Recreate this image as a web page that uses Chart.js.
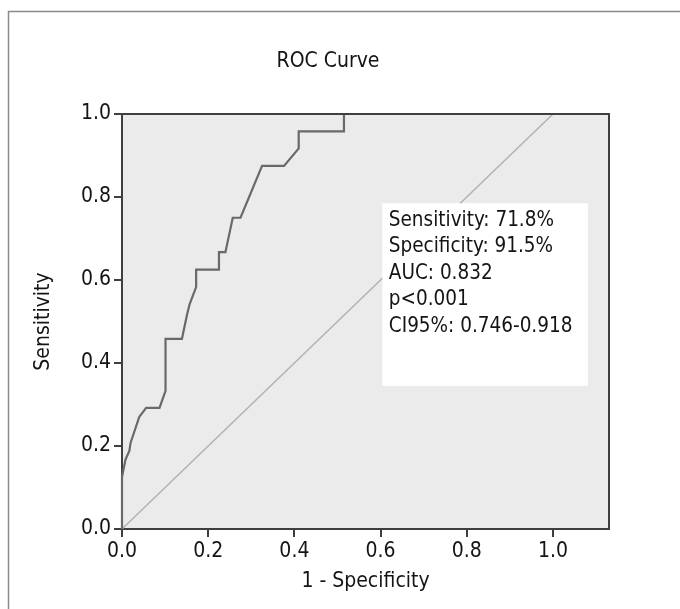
<!DOCTYPE html>
<html>
<head>
<meta charset="utf-8">
<title>ROC Curve</title>
<script src="https://cdn.jsdelivr.net/npm/chart.js@4.4.1/dist/chart.umd.min.js"></script>
<style>
    html, body { margin: 0; padding: 0; background: #fff; }
    #wrap { position: relative; width: 680px; height: 609px; }
</style>
</head>
<body>
<div id="wrap"><canvas id="rocChart"></canvas></div>
<script>
// ROC curve points (1 - specificity, sensitivity)
const fpr = [0, 0, 0.008, 0.017, 0.02, 0.04, 0.056, 0.087, 0.101, 0.101, 0.139, 0.151, 0.157, 0.172,
             0.172, 0.225, 0.225, 0.24, 0.257, 0.275, 0.325, 0.376, 0.41, 0.41, 0.515, 0.515, 1.0];
const tpr = [0, 0.125, 0.167, 0.188, 0.208, 0.27, 0.292, 0.292, 0.333, 0.458, 0.458, 0.517, 0.542, 0.583,
             0.625, 0.625, 0.667, 0.667, 0.75, 0.75, 0.875, 0.875, 0.917, 0.958, 0.958, 1.0, 1.0];

// reference (chance) line
const refLine = [0, 1];

const xTicks = [0, 0.2, 0.4, 0.6, 0.8, 1.0];
const yTicks = [0, 0.2, 0.4, 0.6, 0.8, 1.0];
const xMax = 1.13;

const chartTitle = 'ROC Curve';
const statLines = [
    'Sensitivity: 71.8%',
    'Specificity: 91.5%',
    'AUC: 0.832',
    'p<0.001',
    'CI95%: 0.746-0.918'
];

const FONT = '"DejaVu Sans Condensed", "Liberation Sans", Arial, sans-serif';
const colors = {
    axis: '#3f3f3f',
    plotBg: '#ebebeb',
    curve: '#696969',
    ref: '#b2b2b2',
    frame: '#8a8a8a',
    text: '#141414'
};

// background, frame, title, plot box and the white stats box
const decorPlugin = {
    id: 'decor',
    beforeDraw(chart) {
        const {ctx, chartArea: a} = chart;
        ctx.save();
        ctx.fillStyle = '#fff';
        ctx.fillRect(0, 0, chart.width, chart.height);
        ctx.strokeStyle = colors.frame;
        ctx.lineWidth = 1.5;
        ctx.strokeRect(8.5, 11.5, chart.width + 20, chart.height + 20);
        ctx.fillStyle = colors.plotBg;
        ctx.fillRect(a.left, a.top, a.right - a.left, a.bottom - a.top);

        ctx.fillStyle = colors.text;
        ctx.font = '21px ' + FONT;
        ctx.textAlign = 'center';
        ctx.textBaseline = 'middle';
        ctx.fillText(chartTitle, 328, 62);
        ctx.restore();
    },
    afterDatasetsDraw(chart) {
        const {ctx, chartArea: a, scales: {x, y}} = chart;
        ctx.save();
        const left = x.getPixelForValue(0.604);
        const right = x.getPixelForValue(1.081);
        const top = y.getPixelForValue(0.785);
        const bottom = y.getPixelForValue(0.345);
        ctx.fillStyle = '#fff';
        ctx.fillRect(left, top, right - left, bottom - top);

        ctx.fillStyle = colors.text;
        ctx.font = '20.5px ' + FONT;
        ctx.textBaseline = 'middle';
        ctx.textAlign = 'left';
        statLines.forEach(function(line, i) {
            ctx.fillText(line, left + 6.5, top + 17 + i * 26.5);
        });

        // top and right sides of the plot box
        ctx.strokeStyle = colors.axis;
        ctx.lineWidth = 2;
        ctx.beginPath();
        ctx.moveTo(a.left, a.top);
        ctx.lineTo(a.right, a.top);
        ctx.lineTo(a.right, a.bottom);
        ctx.stroke();
        ctx.restore();
    }
};

new Chart(document.getElementById('rocChart'), {
    type: 'scatter',
    data: {
        datasets: [{
            label: 'ROC',
            data: fpr.map((v, i) => ({x: v, y: tpr[i]})),
            showLine: true,
            borderColor: colors.curve,
            borderWidth: 2.2,
            pointRadius: 0,
            tension: 0,
            clip: false
        }, {
            label: 'Reference',
            data: refLine.map(v => ({x: v, y: v})),
            showLine: true,
            borderColor: colors.ref,
            borderWidth: 1.5,
            pointRadius: 0
        }]
    },
    options: {
        responsive: true,
        maintainAspectRatio: false,
        animation: false,
        layout: { padding: { top: 114, right: 71, bottom: 0, left: 0 } },
        plugins: {
            legend: { display: false },
            tooltip: { enabled: false },
            title: { display: false }
        },
        scales: {
            x: {
                type: 'linear',
                min: 0,
                max: xMax,
                afterBuildTicks: function(scale) {
                    scale.ticks = xTicks.map(v => ({value: v}));
                },
                afterFit: function(scale) { scale.height = 80; },
                border: { display: true, color: colors.axis, width: 2 },
                grid: { display: true, drawOnChartArea: false, drawTicks: true, tickLength: 8, color: colors.axis, lineWidth: 2 },
                ticks: {
                    color: colors.text,
                    font: { family: FONT, size: 21 },
                    padding: 2,
                    maxRotation: 0,
                    callback: v => v.toFixed(1)
                },
                title: {
                    display: true,
                    text: '1 - Specificity',
                    color: colors.text,
                    font: { family: FONT, size: 21 },
                    padding: { top: 0, bottom: 15 }
                }
            },
            y: {
                type: 'linear',
                min: 0,
                max: 1,
                afterBuildTicks: function(scale) {
                    scale.ticks = yTicks.map(v => ({value: v}));
                },
                afterFit: function(scale) { scale.width = 122; },
                border: { display: true, color: colors.axis, width: 2 },
                grid: { display: true, drawOnChartArea: false, drawTicks: true, tickLength: 8, color: colors.axis, lineWidth: 2 },
                ticks: {
                    color: colors.text,
                    font: { family: FONT, size: 21 },
                    padding: 3,
                    callback: v => v.toFixed(1)
                },
                title: {
                    display: true,
                    text: 'Sensitivity',
                    color: colors.text,
                    font: { family: FONT, size: 21 },
                    padding: { top: 31, bottom: 0 }
                }
            }
        }
    },
    plugins: [decorPlugin]
});
</script>
</body>
</html>
